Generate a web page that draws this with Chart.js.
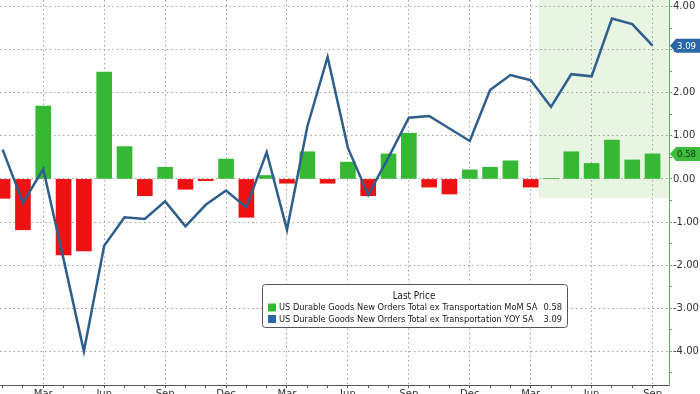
<!DOCTYPE html>
<html>
<head>
<meta charset="utf-8">
<script src="https://cdn.jsdelivr.net/npm/chart.js@4.4.1/dist/chart.umd.min.js"></script>
<style>
  html, body { margin: 0; padding: 0; background: #fff; }
  #wrap { width: 700px; height: 394px; position: relative; }
</style>
</head>
<body>
<div id="wrap"><canvas id="myChart"></canvas></div>
<script>
// monthly, Jan of year 1 through Sep of year 3
const monthNames = ['Jan', 'Feb', 'Mar', 'Apr', 'May', 'Jun', 'Jul', 'Aug', 'Sep', 'Oct', 'Nov', 'Dec'];
const months = [];
for (let i = 0; i < 33; i++) months.push(monthNames[i % 12]);
const labelledMonths = ['Mar', 'Jun', 'Sep', 'Dec'];

const momName = 'US Durable Goods New Orders Total ex Transportation MoM SA';
const yoyName = 'US Durable Goods New Orders Total ex Transportation YOY SA';

const momValues = [
  -0.45, -1.18, 1.69, -1.76, -1.67, 2.48, 0.75, -0.39, 0.27, -0.24, -0.04, 0.46,
  -0.89, 0.08, -0.10, 0.63, -0.10, 0.39, -0.39, 0.58, 1.06, -0.19, -0.35, 0.21,
  0.27, 0.42, -0.19, 0.01, 0.63, 0.36, 0.90, 0.44, 0.58
];
const yoyValues = [
  0.68, -0.55, 0.23, -1.86, -4.00, -1.55, -0.89, -0.93, -0.52, -1.10, -0.60, -0.27,
  -0.66, 0.62, -1.18, 1.21, 2.83, 0.72, -0.37, 0.50, 1.42, 1.46, 1.17, 0.88,
  2.06, 2.41, 2.29, 1.67, 2.43, 2.38, 3.72, 3.59, 3.09
];

const yTickValues = [-4.5, -4, -3.5, -3, -2.5, -2, -1.5, -1, -0.5, 0, 0.5, 1, 1.5, 2, 2.5, 3, 3.5, 4];

// highlighted window (in month index / value units)
const highlightFrom = 26.4;
const highlightBottom = -0.45;

const green = '#35b935';
const red = '#ee1111';
const blue = '#2e5f8c';
const font = { family: 'DejaVu Sans', size: 10 };
const smallFont = '9.2px "DejaVu Sans Condensed", "DejaVu Sans"';

const shadePlugin = {
  id: 'shade',
  beforeDraw(chart) {
    const { ctx, chartArea, scales } = chart;
    const x1 = scales.x.getPixelForValue(highlightFrom);
    const y2 = scales.y.getPixelForValue(highlightBottom);
    ctx.save();
    ctx.fillStyle = '#e9f5e3';
    ctx.fillRect(x1, chartArea.top, chartArea.right - x1, y2 - chartArea.top);
    ctx.restore();
  }
};

function drawTag(ctx, y, text, bg, fg) {
  const x0 = 670, h = 14;
  ctx.beginPath();
  ctx.moveTo(x0, y);
  ctx.lineTo(x0 + 6, y - h / 2);
  ctx.lineTo(700, y - h / 2);
  ctx.lineTo(700, y + h / 2);
  ctx.lineTo(x0 + 6, y + h / 2);
  ctx.closePath();
  ctx.fillStyle = bg;
  ctx.fill();
  ctx.fillStyle = fg;
  ctx.font = '9.5px "DejaVu Sans Condensed", "DejaVu Sans"';
  ctx.textAlign = 'left';
  ctx.textBaseline = 'middle';
  ctx.fillText(text, x0 + 7, y + 0.5);
}

const tagPlugin = {
  id: 'tags',
  afterDraw(chart) {
    const { ctx, scales } = chart;
    const lastMom = momValues[momValues.length - 1];
    const lastYoy = yoyValues[yoyValues.length - 1];
    ctx.save();
    drawTag(ctx, scales.y.getPixelForValue(lastYoy), lastYoy.toFixed(2), '#2b66a8', '#ffffff');
    drawTag(ctx, scales.y.getPixelForValue(lastMom), lastMom.toFixed(2), '#3dbb3d', '#103010');

    // legend box
    const bx = 262.5, by = 284.5, bw = 305, bh = 43;
    ctx.beginPath();
    ctx.roundRect(bx, by, bw, bh, 3);
    ctx.fillStyle = '#ffffff';
    ctx.fill();
    ctx.strokeStyle = '#555';
    ctx.lineWidth = 1;
    ctx.stroke();
    ctx.fillStyle = '#1a1a1a';
    ctx.font = '9.8px "DejaVu Sans Condensed", "DejaVu Sans"';
    ctx.textBaseline = 'middle';
    ctx.textAlign = 'center';
    ctx.fillText('Last Price', 414, 296);
    ctx.font = smallFont;
    const rows = [
      [momName, lastMom.toFixed(2), green, 307.5],
      [yoyName, lastYoy.toFixed(2), '#2b66a8', 319]
    ];
    rows.forEach(([name, val, col, y]) => {
      ctx.fillStyle = col;
      ctx.fillRect(268, y - 4, 8, 8);
      ctx.fillStyle = '#1a1a1a';
      ctx.textAlign = 'left';
      ctx.fillText(name, 279, y + 0.5);
      ctx.textAlign = 'right';
      ctx.fillText(val, 562, y + 0.5);
    });
    ctx.restore();
  }
};

const data = {
  datasets: [{
    type: 'line',
    label: yoyName,
    data: yoyValues.map((v, i) => ({ x: i, y: v })),
    borderColor: blue,
    borderWidth: 2.5,
    pointRadius: 0,
    tension: 0,
    order: 0
  }, {
    type: 'bar',
    label: momName,
    data: momValues.map((v, i) => ({ x: i, y: v })),
    backgroundColor: momValues.map(v => v >= 0 ? green : red),
    barThickness: 15,
    order: 1
  }]
};

const config = {
  data: data,
  plugins: [shadePlugin, tagPlugin],
  options: {
    responsive: true,
    maintainAspectRatio: false,
    animation: false,
    layout: { padding: 0 },
    plugins: { legend: { display: false }, tooltip: { enabled: false } },
    scales: {
      x: {
        type: 'linear',
        offset: false,
        min: -0.13,
        max: 32.81,
        afterBuildTicks: s => { s.ticks = months.map((m, i) => ({ value: i })); },
        afterFit: s => { s.height = 9; s.paddingLeft = 0; s.paddingRight = 0; },
        ticks: {
          autoSkip: false,
          maxRotation: 0,
          padding: 0,
          color: '#333',
          font: font,
          callback: v => labelledMonths.includes(months[v]) ? months[v] : ''
        },
        grid: {
          offset: false,
          color: c => (c.tick && labelledMonths.includes(months[c.tick.value])) ? '#a0a0a0' : 'rgba(0,0,0,0)',
          tickColor: '#555',
          tickLength: 3,
          lineWidth: 1
        },
        border: { color: '#555', dash: [1.5, 3] }
      },
      y: {
        position: 'right',
        min: -4.78,
        max: 4.15,
        afterBuildTicks: s => { s.ticks = yTickValues.map(v => ({ value: v })); },
        afterFit: s => { s.width = 31; s.paddingTop = 0; s.paddingBottom = 0; },
        ticks: {
          padding: 1,
          color: '#333',
          font: font,
          callback: v => Number.isInteger(v) ? v.toFixed(2) : ''
        },
        grid: {
          color: c => (c.tick && Number.isInteger(c.tick.value)) ? '#a0a0a0' : 'rgba(0,0,0,0)',
          tickColor: '#6aa46a',
          tickLength: 3,
          lineWidth: 1
        },
        border: { color: '#64a864', dash: [1.5, 3] }
      }
    }
  }
};

const myChart = new Chart(document.getElementById('myChart'), config);
</script>
</body>
</html>
